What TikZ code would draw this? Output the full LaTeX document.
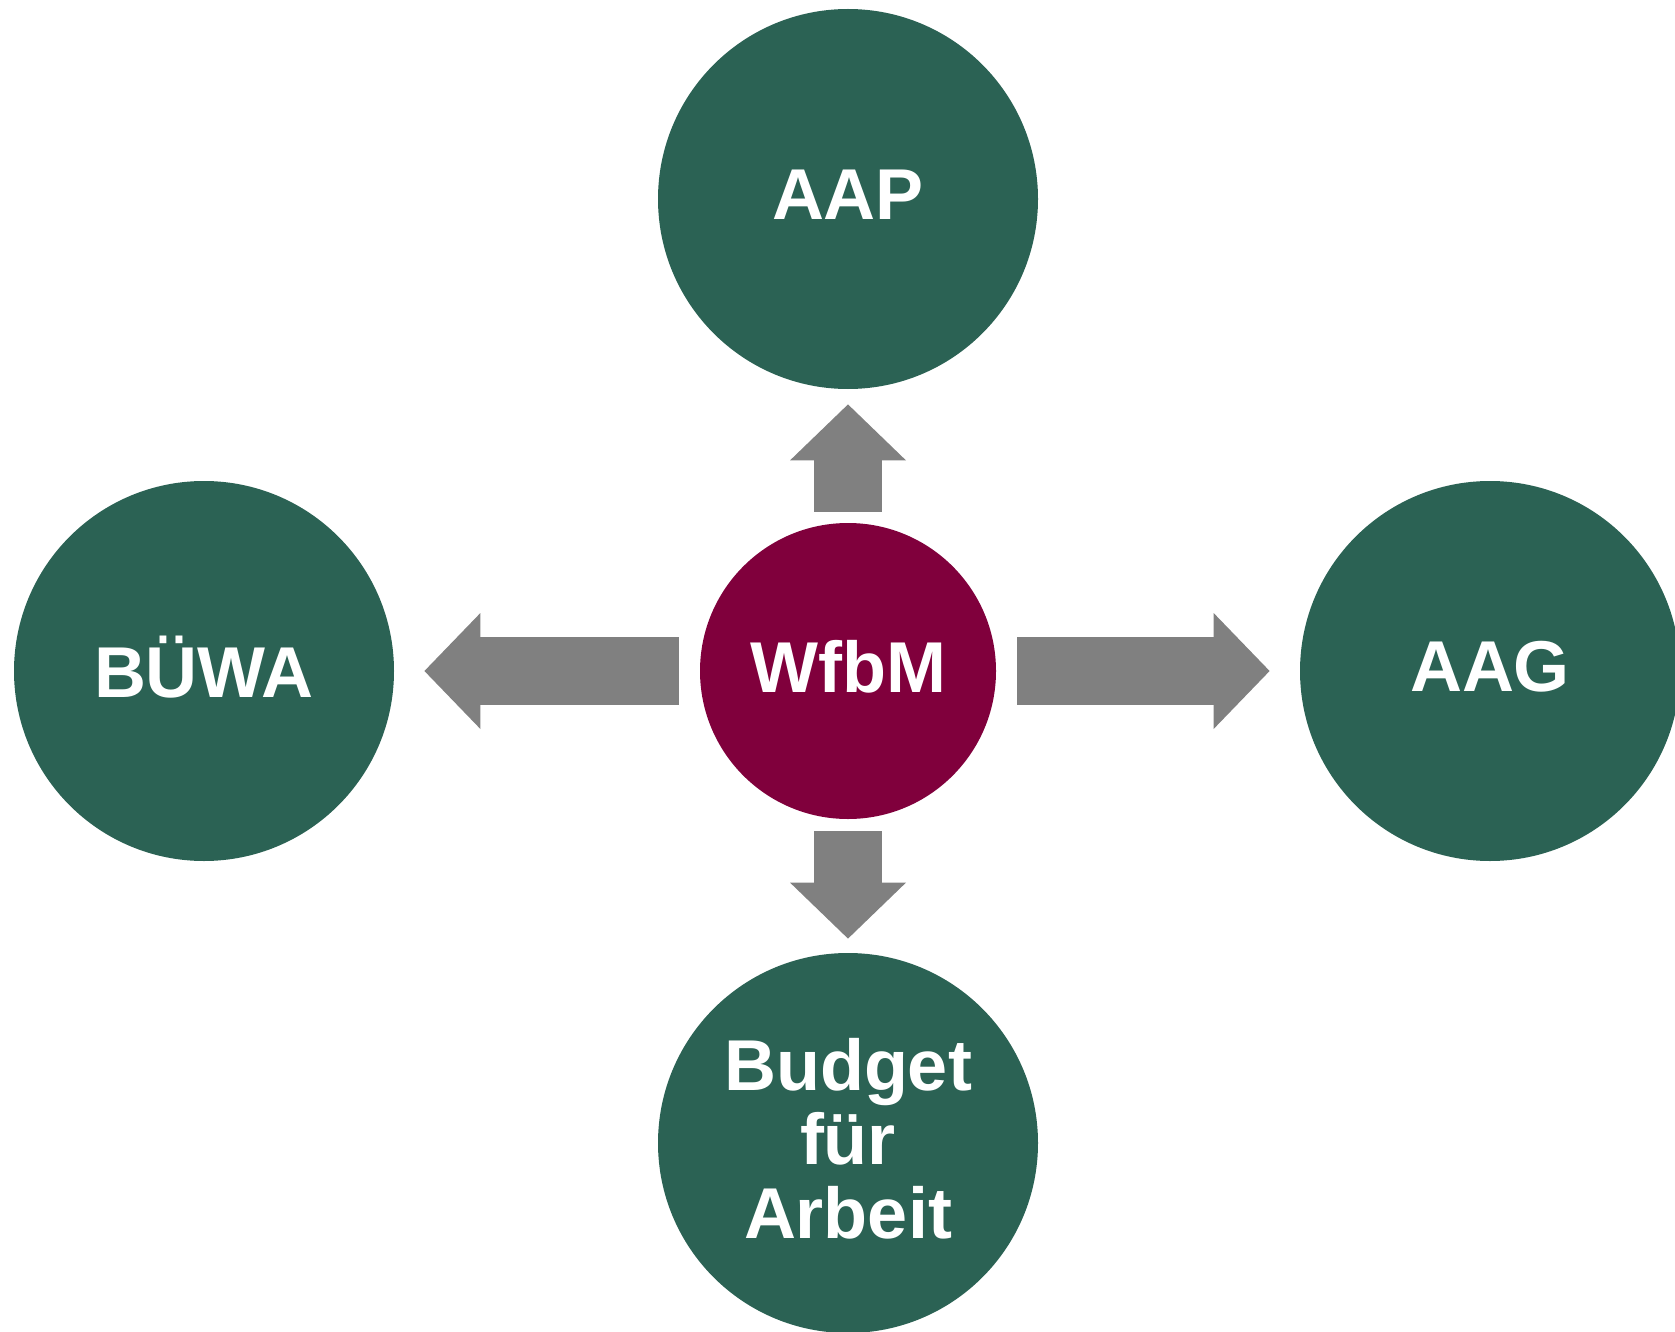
\documentclass[tikz,border=0pt]{standalone}
\usepackage{fontspec}
\setmainfont{Liberation Sans}
\usetikzlibrary{arrows.meta}
\definecolor{kreisgruen}{HTML}{2B6254}
\definecolor{wfbmrot}{HTML}{80003C}
\definecolor{pfeilgrau}{HTML}{808080}
\tikzset{
    kreis/.style={circle, fill=kreisgruen, text=white, inner sep=0pt, minimum size=190pt,
        text depth=4.3pt, align=center, font=\fontsize{36}{37}\selectfont\bfseries},
    pfeil/.style={draw=pfeilgrau, line width=34pt,
        -{Triangle[length=28pt, width=58pt, line width=0pt]}}
}
\begin{document}
\begin{tikzpicture}[x=0.5pt, y=-0.5pt]
                    \useasboundingbox (0, 0) rectangle (1675, 1332);
                    \node[kreis, fill=wfbmrot, minimum size=148pt] (wfbm) at (848, 671) {WfbM};
                    \node[kreis] (aap) at (848, 199) {AAP};
                    \node[kreis] (buewa) at (204, 671) {BÜWA};
                    \node[kreis] (aag) at (1490, 671) {AAG};
                    \node[kreis] (budget) at (848, 1143) {Budget\\für\\Arbeit};
                    \draw[pfeil, shorten <=5.5pt, shorten >=7.5pt] (wfbm) -- (aap);
                    \draw[pfeil, shorten <=10.5pt, shorten >=15pt] (wfbm) -- (buewa);
                    \draw[pfeil, shorten <=10.5pt, shorten >=15pt] (wfbm) -- (aag);
                    \draw[pfeil, shorten <=6pt, shorten >=7pt] (wfbm) -- (budget);
                \end{tikzpicture}
\end{document}
